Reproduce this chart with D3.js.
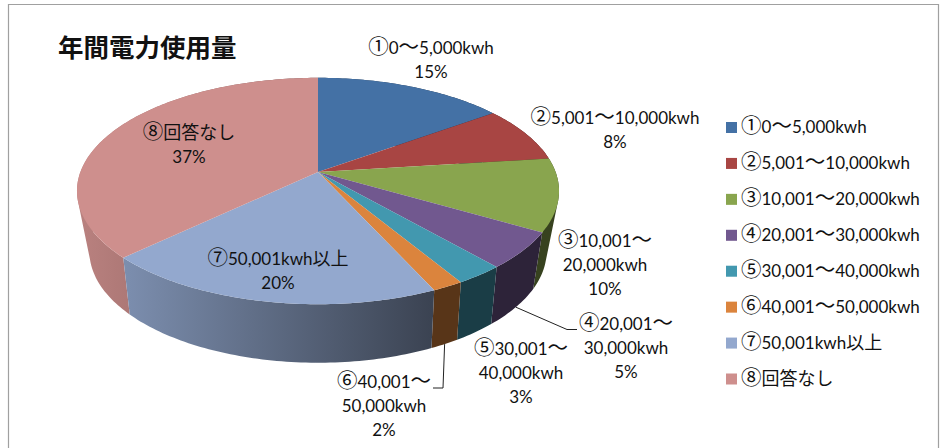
<!DOCTYPE html>
<html>
<head>
<meta charset="utf-8">
<script src="https://cdn.jsdelivr.net/npm/d3@7"></script>
<style>
html, body { margin: 0; padding: 0; background: #fff; }
text { font-family: Lato, "Noto Sans CJK JP", sans-serif; fill: #111; }
.cjk { font-family: "Noto Sans CJK JP", sans-serif; }
</style>
</head>
<body>
<div id="chart"></div>
<script>
'use strict';

var chartTitle = '年間電力使用量';
var categories = [
	'①0〜5,000kwh', '②5,001〜10,000kwh', '③10,001〜20,000kwh', '④20,001〜30,000kwh',
	'⑤30,001〜40,000kwh', '⑥40,001〜50,000kwh', '⑦50,001kwh以上', '⑧回答なし'
];
// the printed labels are the rounded ones
var shares = [15, 8, 10.4, 5.2, 2.8, 1.8, 19.7, 37.1];
var colors = ['#4471a5', '#a84543', '#89a54e', '#71588f', '#4298af', '#db843d', '#93a8ce', '#ce8f8d'];

// data labels, broken the way the reference breaks them
var labelLines = [
	['①0〜5,000kwh', '15%'],
	['②5,001〜10,000kwh', '8%'],
	['③10,001〜', '20,000kwh', '10%'],
	['④20,001〜', '30,000kwh', '5%'],
	['⑤30,001〜', '40,000kwh', '3%'],
	['⑥40,001〜', '50,000kwh', '2%'],
	['⑦50,001kwh以上', '20%'],
	['⑧回答なし', '37%']
];
var labelPos = [[431, 48], [615, 118], [605, 241], [626, 324], [521, 349], [384, 382], [278, 259], [189, 133]];

var width = 940, height = 448;
var svg = d3.select('#chart').append('svg')
	.attr('width', width)
	.attr('height', height)
	.style('display', 'block');

// frame
svg.append('path')
	.attr('d', 'M8.5,448V4.5H938.5V448')
	.attr('fill', 'none')
	.attr('stroke', '#a0a0a0')
	.attr('stroke-width', 1.2);

svg.append('text')
	.attr('x', 58)
	.attr('y', 57)
	.style('font-size', '25.5px')
	.style('font-weight', 700)
	.style('font-family', '"Noto Sans CJK JP", sans-serif')
	.text(chartTitle);

// perspective discs for the top face and the bottom of the wall
var topDisc = { cx: 318, cy: 172, rx: 237.6, ry: 110, k: 0.168 };
var bottomDisc = { cx: 318, cy: 229, rx: 224, ry: 107, k: 0.2 };

function project(disc, angle) {
	var u = Math.sin(angle), v = -Math.cos(angle), w = 1 - disc.k * v;
	return [disc.cx + disc.rx * u / w, disc.cy + disc.ry * v / w];
}

var pie = d3.pie().sort(null).value(function(d) { return d; });
var slices = pie(shares);
var line = d3.line();
var STEP = Math.PI / 180;

function arcAngles(s) {
	var n = Math.max(2, Math.ceil((s.endAngle - s.startAngle) / STEP));
	return d3.range(n + 1).map(function(i) {
		return s.startAngle + (s.endAngle - s.startAngle) * i / n;
	});
}

// wall gets darker to the right, same ramp for every slice
var shadeStops = [[0, 0.9], [0.14, 0.84], [1, 0.4]];
var defs = svg.append('defs');
colors.forEach(function(color, i) {
	var c = d3.rgb(color);
	defs.append('linearGradient')
		.attr('id', 'wall-' + i)
		.attr('gradientUnits', 'userSpaceOnUse')
		.attr('x1', 80).attr('x2', 432)
		.attr('y1', 0).attr('y2', 0)
		.selectAll('stop')
		.data(shadeStops)
		.enter()
		.append('stop')
		.attr('offset', function(d) { return d[0]; })
		.attr('stop-color', function(d) {
			return d3.rgb(c.r * d[1], c.g * d[1], c.b * d[1]).formatHex();
		});
});

// back slices first so the front walls stay on top
var wallOrder = d3.range(slices.length).sort(function(a, b) {
	var ma = (slices[a].startAngle + slices[a].endAngle) / 2;
	var mb = (slices[b].startAngle + slices[b].endAngle) / 2;
	return project(topDisc, ma)[1] - project(topDisc, mb)[1];
});

// one quad per degree, all wound the same way, so the silhouette fills up
function wallPath(s) {
	return d3.pairs(arcAngles(s)).map(function(p) {
		var quad = [
			project(topDisc, p[0]), project(topDisc, p[1]),
			project(bottomDisc, p[1]), project(bottomDisc, p[0])
		];
		if (d3.polygonArea(quad) < 0) quad.reverse();
		return line(quad) + 'Z';
	}).join('');
}

svg.append('g').selectAll('path')
	.data(wallOrder)
	.enter()
	.append('path')
	.attr('fill', function(i) { return 'url(#wall-' + i + ')'; })
	.attr('d', function(i) { return wallPath(slices[i]); });

svg.append('g').selectAll('path')
	.data(slices)
	.enter()
	.append('path')
	.attr('fill', function(d, i) { return colors[i]; })
	.attr('d', function(d) {
		var pts = arcAngles(d).map(function(a) { return project(topDisc, a); });
		return line([[topDisc.cx, topDisc.cy]].concat(pts)) + 'Z';
	});

// leader lines for slices 4 and 6
var leaders = [
	{ slice: 3, mid: [567, 329.5], end: [577, 329.5] },
	{ slice: 5, mid: [443, 388], end: [433, 388] }
];
svg.append('g').selectAll('path')
	.data(leaders)
	.enter()
	.append('path')
	.attr('fill', 'none')
	.attr('stroke', '#222')
	.attr('stroke-width', 1)
	.attr('d', function(d) {
		var s = slices[d.slice];
		return line([project(bottomDisc, (s.startAngle + s.endAngle) / 2), d.mid, d.end]);
	});

var TEXT_SIZE = 17;

// split a line into latin runs and single CJK glyphs, each with its own size
function addLine(node, str, x, y) {
	var runs = str.match(/[\x00-\x7f]+|[^\x00-\x7f]/g);
	runs.forEach(function(run, i) {
		var t = node.append('tspan').text(run);
		if (i === 0) t.attr('x', x).attr('y', y);
		if (run.charCodeAt(0) > 127) {
			t.attr('class', 'cjk').style('font-size', /[①-⑧〜]/.test(run) ? '20.5px' : '18px');
		}
	});
}

// data labels
svg.append('g').selectAll('text')
	.data(labelLines)
	.enter()
	.append('text')
	.attr('text-anchor', 'middle')
	.style('font-size', TEXT_SIZE + 'px')
	.each(function(lines, i) {
		var node = d3.select(this);
		lines.forEach(function(str, j) {
			addLine(node, str, labelPos[i][0], labelPos[i][1] + 5.5 + j * 24);
		});
	});

// legend
var legendY = d3.scalePoint().domain(categories).range([127.5, 379]);
var legend = svg.append('g').selectAll('g')
	.data(categories)
	.enter()
	.append('g')
	.attr('transform', function(d) { return 'translate(726,' + legendY(d) + ')'; });
legend.append('rect')
	.attr('x', 0)
	.attr('y', -5.5)
	.attr('width', 11)
	.attr('height', 11)
	.attr('fill', function(d, i) { return colors[i]; });
legend.append('text')
	.style('font-size', TEXT_SIZE + 'px')
	.each(function(d) { addLine(d3.select(this), d, 15, 5.5); });
</script>
</body>
</html>
